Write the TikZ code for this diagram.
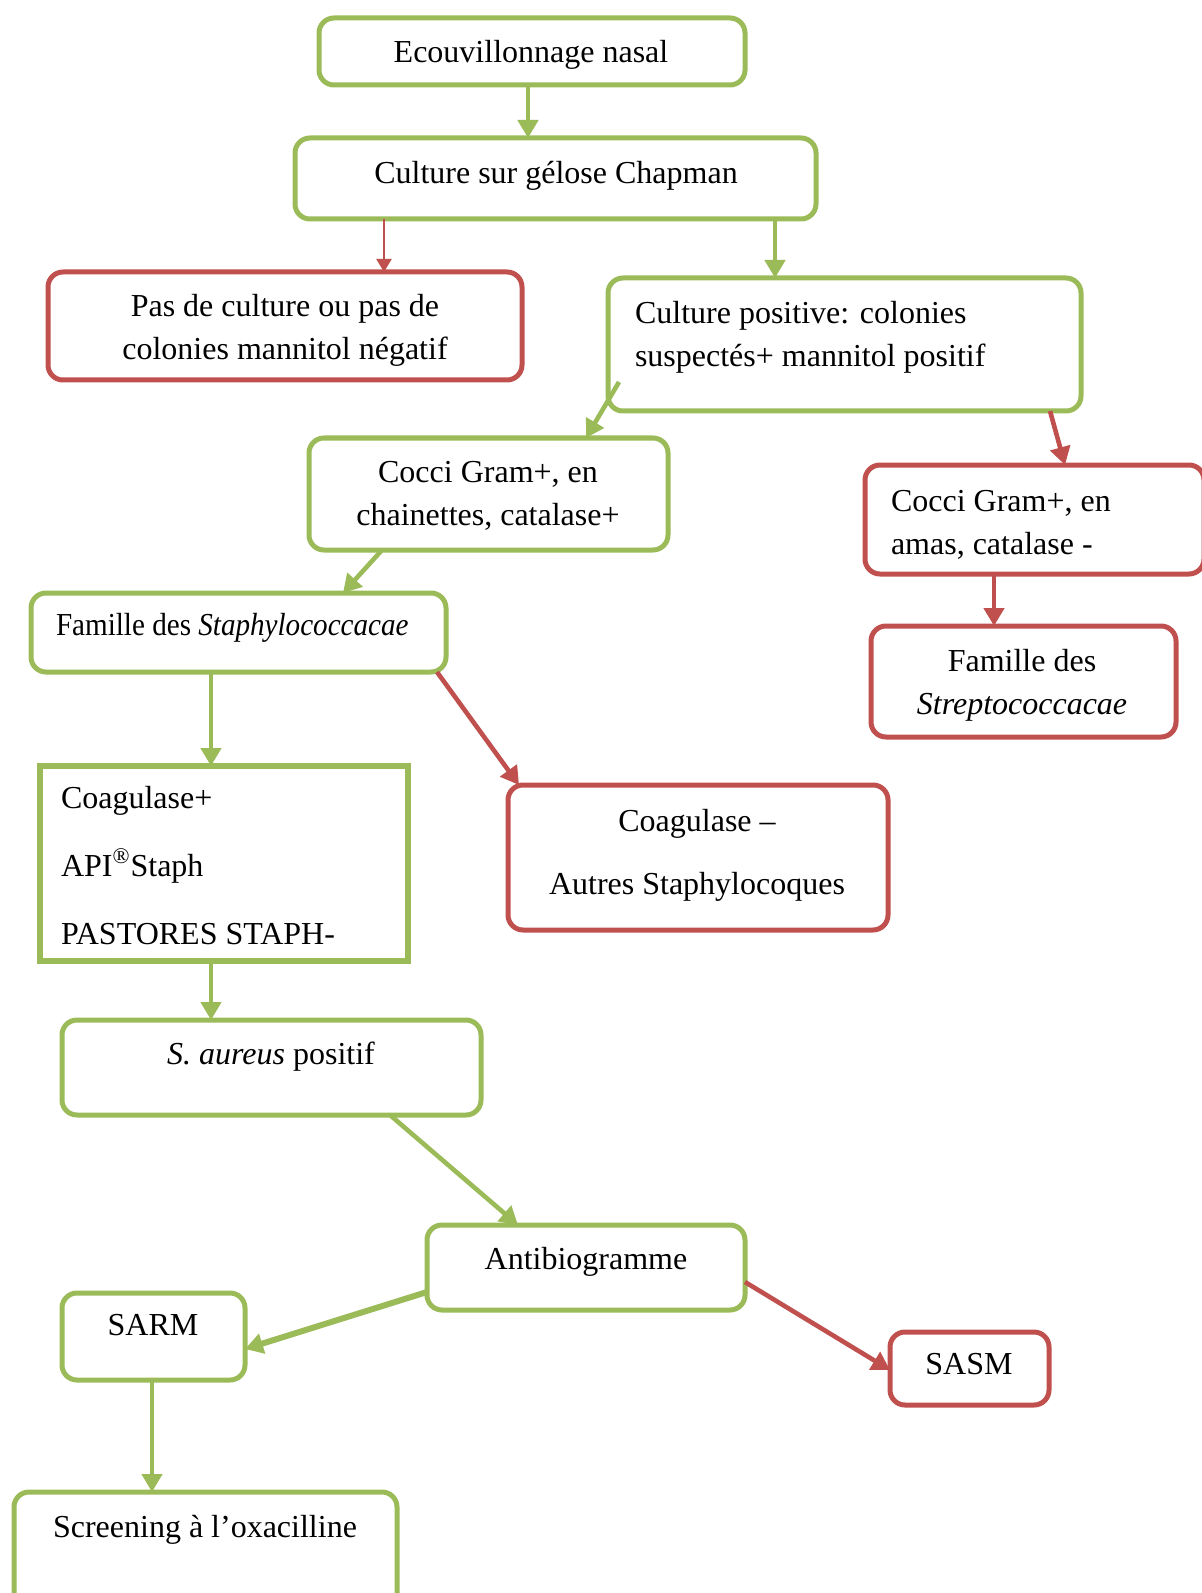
\documentclass[tikz,border=0pt]{standalone}
\usepackage{fontspec}
\setmainfont{Liberation Serif}
\usetikzlibrary{arrows.meta,fit,calc}
\definecolor{gr}{HTML}{9BBB59}
\definecolor{rd}{HTML}{C0504D}
\begin{document}
\begin{tikzpicture}[x=0.5pt,y=-0.5pt,
  gbox/.style={draw=gr, line width=2.5pt, rounded corners=7.5pt, inner sep=0pt, outer sep=0pt},
  rbox/.style={draw=rd, line width=2.5pt, rounded corners=7.5pt, inner sep=0pt, outer sep=0pt},
  sqbox/.style={draw=gr, line width=3pt, inner sep=0pt, outer sep=0pt},
  txt/.style={font=\fontsize{16}{21.5}\selectfont, inner sep=0pt, outer sep=0pt},
  garrow/.style={draw=gr, line width=2.3pt, -{Triangle[length=9pt,width=10pt]}},
  gthick/.style={draw=gr, line width=3pt, -{Triangle[length=9pt,width=10pt]}},
  rarrow/.style={draw=rd, line width=2.3pt, -{Triangle[length=9pt,width=10pt]}},
  rthin/.style={draw=rd, line width=1pt, -{Triangle[length=6.5pt,width=7.5pt]}}]
\useasboundingbox (0,0) rectangle (1202,1593);

% boxes
\node[gbox, fit={(319,18) (745,85)}] (b1) {};
\node[gbox, fit={(295,138) (816,219)}] (b2) {};
\node[rbox, fit={(48,272) (522,380)}] (b3) {};
\node[gbox, fit={(608,278) (1081,411)}] (b4) {};
\node[gbox, fit={(309,438) (668,550)}] (b5) {};
\node[rbox, fit={(865,465) (1204,574)}] (b6) {};
\node[rbox, fit={(871,626) (1176,737)}] (b7) {};
\node[gbox, fit={(31,593) (446,672)}] (b8) {};
\node[sqbox, fit={(40,766) (408,961)}] (b9) {};
\node[rbox, fit={(508,785) (888,930)}] (b10) {};
\node[gbox, fit={(62,1020) (481,1115)}] (b11) {};
\node[gbox, fit={(427,1225) (745,1310)}] (b12) {};
\node[gbox, fit={(62,1293) (245,1380)}] (b13) {};
\node[rbox, fit={(890,1332) (1049,1405)}] (b14) {};
\node[gbox, fit={(14,1492) (397,1615)}] (b15) {};

% texts (multi-line nodes: base = last line's baseline)
\node[txt, anchor=base] (t1) at (531,63) {Ecouvillonnage nasal};
\node[txt, anchor=base] (t2) at (556,184) {Culture sur gélose Chapman};
\node[txt, anchor=base, align=center] (t3) at (285,360) {Pas de culture ou pas de\\colonies mannitol négatif};
\node[txt, anchor=base west, align=left] (t4) at (635,367) {Culture positive: colonies\\suspectés+ mannitol positif};
\node[txt, anchor=base, align=center] (t5) at (488,525) {Cocci Gram+, en\\chainettes, catalase+};
\node[txt, anchor=base west, align=left] (t6) at (891,554) {Cocci Gram+, en\\amas, catalase -};
\node[txt, anchor=base, align=center] (t7) at (1022,714) {Famille des\\\textit{Streptococcacae}};
\node[txt, anchor=base west] (t8) at (56,635) {\scalebox{0.91}[1]{Famille des \textit{Staphylococcacae}}};
\node[txt, anchor=base west, align=left, font=\fontsize{16}{34}\selectfont] (t9) at (61,944) {Coagulase+\\API\textsuperscript{®}Staph\\PASTORES STAPH-};
\node[txt, anchor=base, align=center, font=\fontsize{16}{31.5}\selectfont] (t10) at (697,894) {Coagulase –\\Autres Staphylocoques};
\node[txt, anchor=base] (t11) at (271,1064) {\textit{S. aureus} positif};
\node[txt, anchor=base] (t12) at (586,1269) {Antibiogramme};
\node[txt, anchor=base] (t13) at (153,1335) {SARM};
\node[txt, anchor=base] (t14) at (969,1374) {SASM};
\node[txt, anchor=base] (t15) at (205,1537) {Screening à l’oxacilline};

% connectors
\draw[garrow] (b1.south -| 528,0) -- (b2.north -| 528,0);
\draw[rthin] (b2.south -| 384,0) -- (b3.north -| 384,0);
\draw[garrow] (b2.south -| 775,0) -- (b4.north -| 775,0);
\draw[garrow] ($(b4.south west)+(11,-29)$) -- (b5.north -| 586,0);
\draw[rarrow] (b4.south -| 1050,0) -- (b6.north -| 1065,0);
\draw[rarrow] (b6.south -| 994,0) -- (b7.north -| 994,0);
\draw[garrow] (b5.south -| 382,0) -- (b8.north -| 343,0);
\draw[garrow] (b8.south -| 211,0) -- (b9.north -| 211,0);
\draw[rarrow] (b8.south -| 437,0) -- (b10.north -| 519,0);
\draw[garrow] (b9.south -| 211,0) -- (b11.north -| 211,0);
\draw[garrow] (b11.south -| 390,0) -- (b12.north -| 518,0);
\draw[gthick] (b12.west |- 0,1292) -- (b13.east |- 0,1349);
\draw[rarrow] (b12.east |- 0,1282) -- (b14.west |- 0,1370);
\draw[garrow] (b13.south -| 152,0) -- (b15.north -| 152,0);
\end{tikzpicture}
\end{document}
